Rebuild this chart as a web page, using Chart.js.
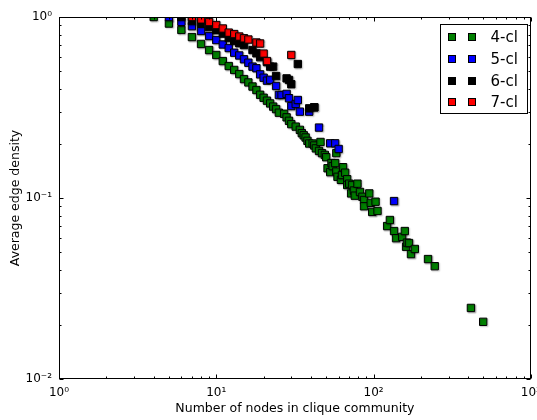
<!DOCTYPE html>
<html><head><meta charset="utf-8">
<script src="https://cdn.jsdelivr.net/npm/chart.js@4/dist/chart.umd.min.js"></script>
<style>html,body{margin:0;padding:0;background:#fff}</style>
</head><body>
<canvas id="c" width="537" height="420"></canvas>
<script>
// ---------- data ----------
const seriesNames = ['4-cl', '5-cl', '6-cl', '7-cl'];
const seriesColors = ['#008000', '#0000ff', '#000000', '#ff0000'];

const cl4X = [4,5,6,7,8,9,10,11,12,13,14,15,16,17,18,19,20,21,22,23,24,25,27,28,29,30,32,34,35,36,37,38,39,41,42,43,45,46,47,49,50,51,53,54,55,57,58,58,59,62,63,64,66,68,68,70,72,73,75,76,79,82,85,87,87,94,96,98,103,106,122,127,135,139,152,158,161,163,168,173,183,222,245,416,498];
const cl4Y = [1.0,0.92,0.848,0.775,0.71,0.657,0.617,0.571,0.536,0.51,0.484,0.454,0.435,0.413,0.395,0.372,0.358,0.345,0.333,0.32,0.31,0.296,0.292,0.279,0.267,0.256,0.248,0.238,0.228,0.222,0.216,0.207,0.2,0.2,0.195,0.188,0.182,0.204,0.177,0.173,0.168,0.146,0.139,0.156,0.15,0.156,0.177,0.14,0.131,0.126,0.134,0.148,0.138,0.127,0.118,0.12,0.106,0.118,0.11,0.103,0.12,0.108,0.1016,0.0975,0.09,0.106,0.094,0.0838,0.0954,0.0848,0.07,0.0756,0.0657,0.06,0.061,0.0657,0.0538,0.0567,0.0564,0.049,0.0523,0.046,0.042,0.0247,0.0207];

const cl5X = [5,6,7,8,9,10,11,12,13,14,15,16,17,18,19,20,21,22,24,25,26,28,29,30,32,33,34,39,42,45,53,57,60,135];
const cl5Y = [1.0,0.94,0.89,0.837,0.785,0.746,0.705,0.674,0.635,0.613,0.584,0.559,0.532,0.521,0.482,0.462,0.445,0.45,0.416,0.371,0.371,0.376,0.356,0.322,0.331,0.348,0.3,0.3,0.317,0.245,0.2005,0.2005,0.1866,0.0962];

const cl6X = [6,7,8,9,10,11,12,13,14,15,17,18,19,21,22,23,24,28,29,30,33,39,42];
const cl6Y = [1.0,0.95,0.918,0.88,0.845,0.809,0.765,0.737,0.716,0.7,0.657,0.63,0.6,0.564,0.532,0.532,0.472,0.458,0.449,0.425,0.55,0.313,0.317];

const cl7X = [7,8,9,10,11,12,13,14,15,16,18,19,20,21,30];
const cl7Y = [1.0,0.97,0.938,0.903,0.864,0.82,0.805,0.78,0.763,0.751,0.723,0.714,0.628,0.571,0.617];

const xTickValues = [1, 10, 100, 1000];
const xTickLabels = ['10\u2070', '10\u00b9', '10\u00b2', '10\u00b3'];
const yTickValues = [0.01, 0.1, 1];
const yTickLabels = ['10\u207b\u00b2', '10\u207b\u00b9', '10\u2070'];
const xTitle = 'Number of nodes in clique community';
const yTitle = 'Average edge density';

// ---------- build ----------
const seriesX = [cl4X, cl5X, cl6X, cl7X];
const seriesY = [cl4Y, cl5Y, cl6Y, cl7Y];
const FONT = '"DejaVu Sans", "Liberation Sans", sans-serif';

const datasets = seriesNames.map((name, i) => ({
  label: name,
  data: seriesX[i].map((x, j) => ({x: x, y: seriesY[i][j]})),
  backgroundColor: seriesColors[i],
  borderColor: '#000',
  borderWidth: 1,
  pointStyle: 'rect',
  pointRadius: 5.2,
  pointHoverRadius: 5.2,
  showLine: false,
  clip: 0,
  order: seriesNames.length - i
}));

const shadowPlugin = {
  id: 'shadow',
  beforeDatasetDraw(chart) {
    const ctx = chart.ctx;
    ctx.save();
    ctx.shadowColor = 'rgba(0,0,0,0.28)';
    ctx.shadowBlur = 1.5;
    ctx.shadowOffsetX = 1;
    ctx.shadowOffsetY = 1;
  },
  afterDatasetDraw(chart) { chart.ctx.restore(); }
};

function logTickList(scale) {
  const out = [];
  const lo = Math.round(Math.log10(scale.min)), hi = Math.round(Math.log10(scale.max));
  for (let d = lo; d <= hi; d++) {
    const b = Math.pow(10, d);
    for (let k = 1; k <= 9; k++) {
      if (d === hi && k > 1) break;
      out.push({v: b * k, major: k === 1});
    }
  }
  return out;
}

const framePlugin = {
  id: 'frame',
  afterDatasetsDraw(chart) {
    const {ctx, chartArea: a, scales} = chart;
    const L = Math.round(a.left) + 0.5, R = Math.round(a.right) - 0.5;
    const T = Math.round(a.top) + 0.5, B = Math.round(a.bottom) - 0.5;
    ctx.save();
    ctx.strokeStyle = '#000';
    ctx.lineWidth = 1;
    ctx.beginPath();
    logTickList(scales.x).forEach(t => {
      const px = Math.round(scales.x.getPixelForValue(t.v)) + 0.5;
      const len = t.major ? 4 : 2;
      ctx.moveTo(px, B); ctx.lineTo(px, B - len);
      ctx.moveTo(px, T); ctx.lineTo(px, T + len);
    });
    logTickList(scales.y).forEach(t => {
      const py = Math.round(scales.y.getPixelForValue(t.v)) + 0.5;
      const len = t.major ? 4 : 2;
      ctx.moveTo(L, py); ctx.lineTo(L + len, py);
      ctx.moveTo(R, py); ctx.lineTo(R - len, py);
    });
    ctx.stroke();
    ctx.strokeRect(L, T, R - L, B - T);
    ctx.restore();
  }
};

const legendPlugin = {
  id: 'boxLegend',
  afterDraw(chart) {
    const {ctx, chartArea: a} = chart;
    const right = Math.round(a.right) - 3.5, top = Math.round(a.top) + 7.5;
    const w = 87, rowH = 21.8;
    const left = right - w, h = 89;
    ctx.save();
    ctx.fillStyle = '#fff';
    ctx.fillRect(left, top, w, h);
    ctx.strokeStyle = '#000';
    ctx.lineWidth = 1;
    ctx.strokeRect(left, top, w, h);
    ctx.font = '15px ' + FONT;
    ctx.textBaseline = 'middle';
    ctx.textAlign = 'left';
    chart.data.datasets.forEach((ds, i) => {
      const cy = Math.round(top + 12.5 + i * rowH);
      [11, 31].forEach(dx => {
        const cx = Math.round(left + dx);
        ctx.fillStyle = ds.backgroundColor;
        ctx.fillRect(cx - 3, cy - 3, 7, 7);
        ctx.strokeStyle = '#000';
        ctx.strokeRect(cx - 3.5, cy - 3.5, 7, 7);
      });
      ctx.fillStyle = '#000';
      ctx.fillText(ds.label, left + 50, cy + 1);
    });
    ctx.restore();
  }
};

new Chart(document.getElementById('c'), {
  type: 'scatter',
  data: {datasets},
  options: {
    responsive: false,
    animation: false,
    devicePixelRatio: 1,
    layout: {padding: {left: 0, right: 5, top: 17, bottom: 0}},
    plugins: {legend: {display: false}, tooltip: {enabled: false}},
    scales: {
      x: {
        type: 'logarithmic',
        min: 1, max: 1000,
        grid: {display: false, drawTicks: false},
        border: {display: false},
        afterBuildTicks: s => { s.ticks = xTickValues.map(v => ({value: v})); },
        afterFit: s => { s.height = 41; s.paddingLeft = 0; s.paddingRight = 0; },
        ticks: {
          color: '#000', padding: 7, maxRotation: 0, autoSkip: false,
          font: {family: FONT, size: 12},
          callback: v => { const k = xTickValues.indexOf(v); return k >= 0 ? xTickLabels[k] : ''; }
        },
        title: {display: true, text: xTitle, color: '#000', font: {family: FONT, size: 12.5}, padding: {top: 0, bottom: 3.5}}
      },
      y: {
        type: 'logarithmic',
        min: 0.01, max: 1,
        grid: {display: false, drawTicks: false},
        border: {display: false},
        afterBuildTicks: s => { s.ticks = yTickValues.map(v => ({value: v})); },
        afterFit: s => { s.width = 59; s.paddingTop = 0; s.paddingBottom = 0; },
        ticks: {
          color: '#000', padding: 7, autoSkip: false,
          font: {family: FONT, size: 12},
          callback: v => { const k = yTickValues.findIndex(t => Math.abs(t - v) < 1e-9); return k >= 0 ? yTickLabels[k] : ''; }
        },
        title: {display: true, text: yTitle, color: '#000', font: {family: FONT, size: 12.5}, padding: {top: 8.5, bottom: 0}}
      }
    }
  },
  plugins: [shadowPlugin, framePlugin, legendPlugin]
});
</script>
</body></html>
